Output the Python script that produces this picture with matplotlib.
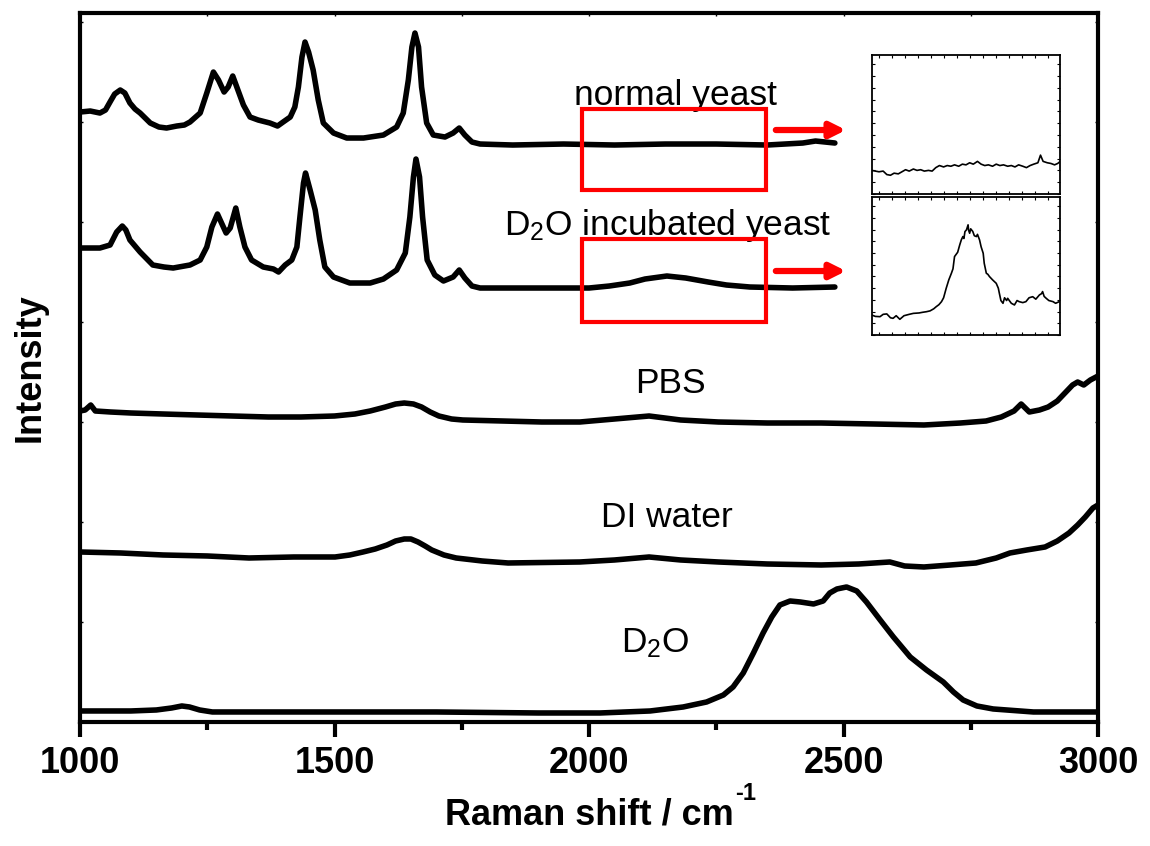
import matplotlib
matplotlib.use("Agg")
import matplotlib.pyplot as plt
from matplotlib.ticker import MultipleLocator, NullFormatter
from matplotlib.patches import Rectangle

plt.rcParams['font.family'] = ['Liberation Sans', 'DejaVu Sans']
plt.rcParams['mathtext.fontset'] = 'custom'
plt.rcParams['mathtext.rm'] = 'Liberation Sans'
plt.rcParams['mathtext.bf'] = 'Liberation Sans:bold'
plt.rcParams['mathtext.default'] = 'rm'

# ---------------- data (stacked intensities, arb. units) ----------------
yeast_x = [1000, 1020, 1039, 1050, 1060, 1068, 1079, 1088, 1098, 1108, 1118, 1138, 1155, 1170,
           1190, 1205, 1216, 1236, 1249, 1262, 1272, 1283, 1291, 1300, 1308, 1321, 1334, 1350,
           1373, 1388, 1399, 1413, 1422, 1429, 1436, 1442, 1449, 1458, 1468, 1478, 1498, 1524,
           1557, 1596, 1622, 1635, 1645, 1652, 1658, 1665, 1671, 1681, 1694, 1717, 1733, 1745,
           1756, 1770, 1786, 1850, 1950, 2050, 2150, 2250, 2350, 2420, 2445, 2483]
yeast_y = [610, 611, 609, 612, 621, 628, 632, 629, 619, 613, 609, 599, 595, 594,
           596, 597, 600, 609, 629, 650, 642, 630, 635, 646, 635, 617, 605, 602,
           599, 596, 600, 605, 615, 635, 665, 680, 670, 652, 622, 599, 589, 584,
           584, 587, 595, 609, 642, 675, 689, 675, 635, 599, 587, 585, 589, 594,
           587, 580, 578, 577, 578, 577, 578, 578, 577, 579, 581, 579]

d2o_yeast_x = [1000, 1039, 1059, 1072, 1083, 1090, 1098, 1118, 1143, 1165, 1183, 1205, 1216, 1236,
               1249, 1259, 1270, 1278, 1287, 1295, 1306, 1314, 1324, 1337, 1360, 1380, 1390, 1403,
               1416, 1426, 1432, 1439, 1443, 1452, 1462, 1471, 1481, 1498, 1530, 1570, 1596, 1622,
               1639, 1648, 1655, 1660, 1667, 1673, 1682, 1697, 1714, 1733, 1745, 1756, 1770, 1786,
               1850, 1950, 2000, 2040, 2080, 2110, 2153, 2190, 2234, 2270, 2316, 2400, 2483]
d2o_yeast_y = [474, 474, 477, 490, 496, 492, 482, 470, 457, 455, 454, 456, 457, 462,
               475, 495, 508, 499, 489, 494, 514, 495, 475, 462, 455, 453, 450, 457,
               462, 475, 505, 539, 549, 532, 512, 482, 455, 445, 439, 439, 443, 452,
               469, 505, 545, 563, 545, 505, 462, 447, 441, 445, 452, 444, 436, 434,
               434, 434, 434, 436, 439, 443, 446, 444, 440, 437, 435, 434, 435]

pbs_x = [1000, 1010, 1021, 1030, 1060, 1100, 1163, 1230, 1299, 1370, 1434, 1500, 1540, 1570,
         1600, 1620, 1637, 1655, 1671, 1688, 1705, 1730, 1752, 1830, 1907, 1982, 2050, 2118,
         2180, 2254, 2350, 2456, 2560, 2658, 2730, 2780, 2810, 2835, 2849, 2865, 2885, 2902,
         2920, 2935, 2950, 2960, 2972, 2985, 3000]
pbs_y = [311, 312, 317, 311, 310, 309, 308, 307, 306, 305, 305, 306, 308, 311,
         315, 318, 319, 318, 315, 310, 306, 303, 302, 301, 300, 300, 303, 306,
         302, 300, 299, 299, 298, 297, 299, 301, 305, 311, 318, 310, 312, 315,
         321, 329, 337, 340, 337, 342, 346]

water_x = [1000, 1080, 1163, 1250, 1332, 1420, 1501, 1530, 1556, 1580, 1603, 1620, 1637, 1650,
           1664, 1678, 1691, 1715, 1739, 1790, 1841, 1982, 2050, 2118, 2180, 2254, 2350, 2456,
           2530, 2591, 2620, 2658, 2710, 2760, 2800, 2827, 2860, 2896, 2920, 2943, 2960, 2975,
           2990, 3000]
water_y = [170, 169, 167, 166, 164, 165, 165, 167, 170, 173, 177, 181, 183, 183,
           180, 176, 172, 167, 164, 161, 159, 160, 162, 165, 162, 160, 158, 157,
           158, 160, 156, 155, 157, 159, 164, 169, 172, 175, 181, 189, 197, 205,
           214, 217]

d2o_x = [1000, 1100, 1150, 1180, 1200, 1215, 1235, 1260, 1400, 1700, 1900, 2022, 2120, 2185,
         2231, 2264, 2283, 2303, 2323, 2342, 2359, 2375, 2395, 2415, 2441, 2460, 2473, 2487,
         2506, 2526, 2545, 2572, 2598, 2631, 2663, 2696, 2716, 2735, 2762, 2794, 2873, 3000]
d2o_y = [11, 11, 12, 14, 16, 15, 12, 10, 10, 10, 9, 9, 11, 15,
         20, 27, 35, 49, 69, 89, 105, 117, 121, 120, 118, 121, 129, 133,
         135, 131, 120, 102, 85, 65, 52, 40, 30, 22, 16, 13, 10, 10]

labels = ['normal yeast', 'D$_2$O incubated yeast', 'PBS', 'DI water', 'D$_2$O']
label_x = [2169, 2155, 2159, 2153, 2130]
label_y = [627, 497, 339, 204, 79]

# zoom window (cm-1) and the two red boxes (intensity ranges)
zoom_range = [1986, 2348]
box_ranges = [(532, 613), (400, 483)]
arrow_x = [2367, 2505]
arrow_y = [592, 451]

# insets (zoomed spectra, normalised)
inset1_x = [1986, 1993, 2000, 2008, 2015, 2022, 2029, 2037, 2044, 2051, 2058, 2066, 2073, 2080,
            2087, 2095, 2102, 2109, 2116, 2124, 2131, 2138, 2145, 2153, 2160, 2167, 2174, 2181,
            2189, 2196, 2203, 2210, 2218, 2225, 2232, 2239, 2247, 2254, 2261, 2268, 2276, 2283,
            2290, 2297, 2305, 2310, 2315, 2323, 2330, 2337, 2343, 2348]
inset1_y = [.17, .165, .16, .165, .14, .135, .15, .145, .16, .175, .165, .18, .17, .175,
            .165, .17, .165, .19, .205, .195, .205, .2, .21, .2, .215, .21, .225, .215,
            .235, .215, .205, .21, .2, .215, .205, .21, .2, .205, .195, .21, .2, .19,
            .205, .215, .225, .28, .235, .225, .22, .21, .22, .235]

inset2_x = [1986, 1993, 2002, 2008, 2015, 2022, 2027, 2033, 2040, 2048, 2053, 2058, 2066, 2077,
            2084, 2091, 2098, 2105, 2110, 2115, 2120, 2124, 2129, 2134, 2139, 2142, 2145, 2151,
            2155, 2158, 2161, 2163, 2165, 2168, 2171, 2172, 2174, 2176, 2180, 2183, 2187, 2189,
            2193, 2196, 2200, 2202, 2206, 2209, 2212, 2218, 2225, 2229, 2231, 2234, 2238, 2241,
            2245, 2247, 2254, 2260, 2265, 2269, 2276, 2282, 2288, 2295, 2301, 2308, 2312, 2314,
            2317, 2321, 2326, 2334, 2339, 2346]
inset2_y = [.145, .135, .133, .15, .153, .125, .121, .14, .114, .14, .145, .15, .157, .16,
            .165, .169, .175, .19, .206, .22, .242, .27, .339, .40, .448, .48, .569, .60,
            .654, .69, .714, .70, .75, .763, .799, .76, .738, .77, .751, .72, .714, .73,
            .690, .64, .593, .52, .448, .44, .424, .40, .375, .34, .303, .25, .230, .27,
            .25, .266, .23, .218, .25, .242, .235, .242, .27, .278, .26, .291, .30, .315,
            .28, .266, .25, .242, .23, .242]

# ---------------- figure ----------------
fig = plt.figure(figsize=(11.5, 8.46), dpi=100)
ax = fig.add_axes([0.0696, 0.1466, 0.8852, 0.838])

line_kw = dict(color='black', lw=4.0, solid_joinstyle='round', solid_capstyle='round')
for xs, ys in [(yeast_x, yeast_y), (d2o_yeast_x, d2o_yeast_y), (pbs_x, pbs_y),
               (water_x, water_y), (d2o_x, d2o_y)]:
    ax.plot(xs, ys, **line_kw)

for t, x, y in zip(labels, label_x, label_y):
    ax.text(x, y, t, fontsize=25.5, ha='center', va='center', color='black')

for lo, hi in box_ranges:
    ax.add_patch(Rectangle((zoom_range[0], lo), zoom_range[1] - zoom_range[0], hi - lo,
                           fill=False, edgecolor='#ff0000', lw=3.0, zorder=5))
for ay in arrow_y:
    ax.annotate('', xy=(arrow_x[1], ay), xytext=(arrow_x[0], ay),
                arrowprops=dict(arrowstyle='-|>,head_length=0.9,head_width=0.45',
                                color='#ff0000', lw=4.5, shrinkA=0, shrinkB=0))

ax.set_xlim(1000, 3000)
ax.set_ylim(0, 709)
ax.xaxis.set_major_locator(MultipleLocator(500))
ax.xaxis.set_minor_locator(MultipleLocator(250))
ax.yaxis.set_major_locator(MultipleLocator(100))
ax.yaxis.set_major_formatter(NullFormatter())
ax.tick_params(axis='x', which='major', direction='out', length=11, width=3,
               labelsize=26, pad=6, top=False)
ax.tick_params(axis='x', which='minor', direction='out', length=6, width=3, top=False)
ax.tick_params(axis='y', which='major', direction='in', length=2.5, width=1.0, left=True, right=True)
for lab in ax.get_xticklabels():
    lab.set_fontweight('bold')
secx = ax.secondary_xaxis('top')
secx.xaxis.set_major_locator(MultipleLocator(250))
secx.tick_params(direction='in', length=2.5, width=1.0, labeltop=False)
secx.spines['top'].set_visible(False)
for sp in ax.spines.values():
    sp.set_linewidth(3)

ax.set_xlabel('Raman shift / cm', fontsize=26, fontweight='bold', labelpad=12)
ax.annotate('-1', xy=(1.0, 0.78), xycoords=ax.xaxis.label, xytext=(1, 0),
            textcoords='offset points', fontsize=17, fontweight='bold',
            ha='left', va='bottom')
ax.set_ylabel('Intensity', fontsize=26, fontweight='bold', labelpad=20)

# insets
for (bx, by, bw, bh), xs, ys in [((0.758, 0.7707, 0.164, 0.164), inset1_x, inset1_y),
                                 ((0.758, 0.604, 0.164, 0.163), inset2_x, inset2_y)]:
    ia = fig.add_axes([bx, by, bw, bh])
    ia.plot(xs, ys, color='black', lw=1.2)
    ia.set_xlim(zoom_range[0], zoom_range[1])
    ia.set_ylim(0, 1)
    ia.xaxis.set_major_locator(MultipleLocator(25))
    ia.yaxis.set_major_locator(MultipleLocator(0.085))
    ia.tick_params(direction='in', length=2.5, width=0.8, top=True, right=True,
                   labelbottom=False, labelleft=False)
    for sp in ia.spines.values():
        sp.set_linewidth(1.3)

fig.savefig('out.png', dpi=100)
